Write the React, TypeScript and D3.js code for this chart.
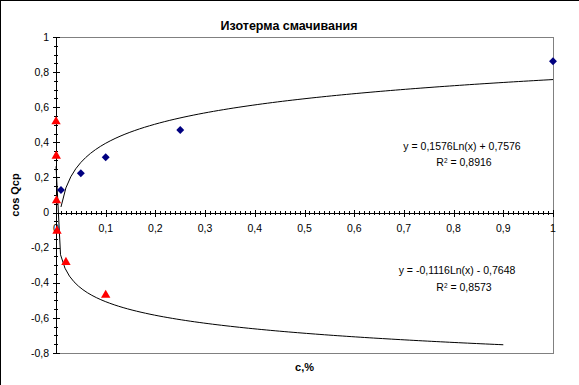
import * as d3 from "d3";

// Изотерма смачивания: cos Q vs concentration
const blueX = [0.01, 0.05, 0.1, 0.25, 1];
const blueY = [0.128, 0.224, 0.315, 0.47, 0.862];

const redX = [0.0001, 0.0005, 0.001, 0.002, 0.02, 0.1];
const redY = [0.518, 0.322, 0.068, -0.105, -0.283, -0.47];

// log trendlines y = a*ln(x) + b
const trendBlue = { a: 0.1576, b: 0.7576, from: 0.01, to: 1, eq: "y = 0,1576Ln(x) + 0,7576", r2: "0,8916" };
const trendRed = { a: -0.1116, b: -0.7648, from: 0.0001, to: 0.9, eq: "y = -0,1116Ln(x) - 0,7648", r2: "0,8573" };

const xTicks = [0, 0.1, 0.2, 0.3, 0.4, 0.5, 0.6, 0.7, 0.8, 0.9, 1];
const yTicks = [1, 0.8, 0.6, 0.4, 0.2, 0, -0.2, -0.4, -0.6, -0.8];

const W = 579;
const H = 385;
const font = "'Liberation Sans', Arial, sans-serif";

const fmt = (v: number) => {
  const r = Math.round(v * 10) / 10;
  return String(r).replace(".", ",");
};

export default function App() {
  const x = d3.scaleLinear().domain([0, 1]).range([56, 553]);
  const y = d3.scaleLinear().domain([-0.8, 1]).range([353, 37]);

  const minorX = d3.range(0, 101).map((i) => i / 100);
  const minorY = d3.range(-16, 21).map((i) => i * 0.05);

  const trendPath = (t: typeof trendBlue) => {
    const n = 100;
    const pts = d3.range(n + 1).map((i) => {
      const xv = t.from + ((t.to - t.from) * i) / n;
      return [xv, t.a * Math.log(xv) + t.b] as [number, number];
    });
    return d3
      .line<[number, number]>()
      .x((d) => x(d[0]))
      .y((d) => y(d[1]))(pts) as string;
  };

  const diamond = d3.symbol(d3.symbolDiamond2, 40)() as string;
  const triangle = d3.symbol(d3.symbolTriangle, 38)() as string;

  const y0 = y(0);

  return (
    <svg
      width={W}
      height={H}
      style={{ position: "absolute", left: 0, top: 0, background: "#fff" }}
      fontFamily={font}
    >
      {/* outer frame */}
      <line x1={0} y1={0.5} x2={W} y2={0.5} stroke="#000" />
      <line x1={0.5} y1={0} x2={0.5} y2={H} stroke="#000" />

      <text x={289} y={30} textAnchor="middle" fontSize={12.5} fontWeight="bold">
        Изотерма смачивания
      </text>

      {/* plot border */}
      <rect
        x={x(0)}
        y={y(1)}
        width={x(1) - x(0)}
        height={y(-0.8) - y(1)}
        fill="#fff"
        stroke="#808080"
        shapeRendering="crispEdges"
      />

      {/* y axis */}
      <g shapeRendering="crispEdges" stroke="#000">
        <line x1={x(0)} x2={x(0)} y1={y(1)} y2={y(-0.8)} />
        {minorY.map((v, i) => (
          <line key={"my" + i} x1={x(0) - 2} x2={x(0) + 2} y1={Math.round(y(v)) + 0.5} y2={Math.round(y(v)) + 0.5} />
        ))}
        {yTicks.map((v) => (
          <line key={"Y" + v} x1={x(0) - 3} x2={x(0) + 4} y1={Math.round(y(v)) + 0.5} y2={Math.round(y(v)) + 0.5} />
        ))}
      </g>
      {yTicks.map((v) => (
        <text key={"yl" + v} x={49} y={y(v)} dy="0.35em" textAnchor="end" fontSize={10.5}>
          {fmt(v)}
        </text>
      ))}

      {/* x axis at y = 0 */}
      <g shapeRendering="crispEdges" stroke="#000">
        <line x1={x(0)} x2={x(1)} y1={Math.round(y0) + 0.5} y2={Math.round(y0) + 0.5} />
        {minorX.map((v, i) => (
          <line key={"mx" + i} x1={Math.round(x(v)) + 0.5} x2={Math.round(x(v)) + 0.5} y1={y0 - 2} y2={y0 + 2} />
        ))}
        {xTicks.map((v) => (
          <line key={"X" + v} x1={Math.round(x(v)) + 0.5} x2={Math.round(x(v)) + 0.5} y1={y0 - 3} y2={y0 + 4} />
        ))}
      </g>
      {xTicks.map((v) => (
        <text key={"xl" + v} x={x(v)} y={232} textAnchor="middle" fontSize={10.5}>
          {fmt(v)}
        </text>
      ))}

      {/* trendlines */}
      <path d={trendPath(trendBlue)} fill="none" stroke="#000" strokeWidth={1} />
      <path d={trendPath(trendRed)} fill="none" stroke="#000" strokeWidth={1} />

      {/* points */}
      {blueX.map((v, i) => (
        <path key={"b" + i} d={diamond} transform={`translate(${x(v)},${y(blueY[i])})`} fill="#000080" />
      ))}
      {redX.map((v, i) => (
        <path key={"r" + i} d={triangle} transform={`translate(${x(v)},${y(redY[i])})`} fill="#ff0000" />
      ))}

      {/* equations */}
      <text x={462} y={150} textAnchor="middle" fontSize={10.5}>
        {trendBlue.eq}
      </text>
      <text x={464} y={166} textAnchor="middle" fontSize={10.5}>
        R<tspan baselineShift="super" fontSize={6.5}>2</tspan> = {trendBlue.r2}
      </text>
      <text x={457} y={274} textAnchor="middle" fontSize={10.5}>
        {trendRed.eq}
      </text>
      <text x={464} y={291} textAnchor="middle" fontSize={10.5}>
        R<tspan baselineShift="super" fontSize={6.5}>2</tspan> = {trendRed.r2}
      </text>

      {/* axis titles */}
      <text
        transform={`translate(19,${(y(1) + y(-0.8)) / 2}) rotate(-90)`}
        textAnchor="middle"
        fontSize={11}
        fontWeight="bold"
      >
        cos Qcp
      </text>
      <text x={(x(0) + x(1)) / 2} y={371} textAnchor="middle" fontSize={11} fontWeight="bold">
        c,%
      </text>
    </svg>
  );
}
